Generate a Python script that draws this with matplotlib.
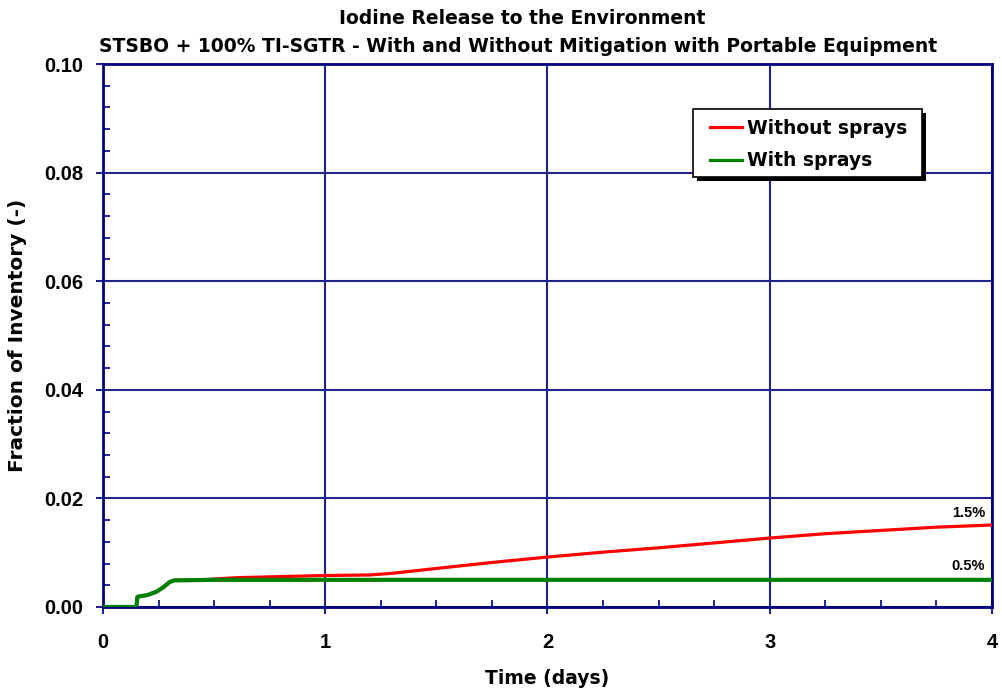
import matplotlib
matplotlib.use("Agg")
import matplotlib.pyplot as plt
from matplotlib.ticker import MultipleLocator, FormatStrFormatter
from matplotlib.patches import Rectangle
import matplotlib.transforms as mtransforms

plt.rcParams['font.family'] = ['Liberation Sans', 'DejaVu Sans']
plt.rcParams['font.weight'] = 'bold'

# Data (time in days, fraction of inventory)
t_without = [0.0, 0.15, 0.155, 0.17, 0.20, 0.24, 0.27, 0.30, 0.32, 0.44, 0.6, 0.8, 1.0, 1.2, 1.3, 1.5, 1.75, 2.0, 2.25, 2.5, 2.75, 3.0, 3.25, 3.5, 3.75, 4.0]
y_without = [0.0, 0.0, 0.0019, 0.0020, 0.0022, 0.0028, 0.0036, 0.0046, 0.0049, 0.0050, 0.0054, 0.0056, 0.0058, 0.0059, 0.0062, 0.0071, 0.0082, 0.0092, 0.0101, 0.0109, 0.0118, 0.0127, 0.0135, 0.0141, 0.0147, 0.0151]
t_with = [0.0, 0.15, 0.155, 0.17, 0.20, 0.24, 0.27, 0.30, 0.32, 0.5, 1.0, 2.0, 3.0, 4.0]
y_with = [0.0, 0.0, 0.0019, 0.0020, 0.0022, 0.0028, 0.0036, 0.0046, 0.0049, 0.0050, 0.0050, 0.0050, 0.0050, 0.0050]

labels = ["Without sprays", "With sprays"]
colors = ["#FF0000", "#008000"]
annot_text = ["1.5%", "0.5%"]
annot_y = [0.0166, 0.0068]

navy = "#000080"
grid_c = "#22228c"
wide = ['DejaVu Sans']

fig = plt.figure(figsize=(10.03, 6.92), dpi=100)
ax = fig.add_axes([103/1003, 1-607/692, (992-103)/1003, (607-64)/692])

ax.plot(t_without, y_without, color=colors[0], lw=2.3, label=labels[0], zorder=3)
ax.plot(t_with, y_with, color=colors[1], lw=3.0, label=labels[1], zorder=4)

ax.set_xlim(0, 4)
ax.set_ylim(0, 0.10)
ax.xaxis.set_major_locator(MultipleLocator(1))
ax.xaxis.set_minor_locator(MultipleLocator(0.25))
ax.yaxis.set_major_locator(MultipleLocator(0.02))
ax.yaxis.set_minor_locator(MultipleLocator(0.004))
ax.yaxis.set_major_formatter(FormatStrFormatter('%.2f'))
ax.xaxis.set_major_formatter(FormatStrFormatter('%d'))

ax.grid(True, which='major', color=grid_c, lw=1.5)
for s in ax.spines.values():
    s.set_color(navy)
    s.set_linewidth(2.0)
ax.tick_params(which='major', direction='out', length=5, color=grid_c, width=1.5, labelsize=14.5)
ax.tick_params(axis='x', which='major', pad=14)
ax.tick_params(axis='y', which='major', pad=9)
ax.tick_params(which='minor', direction='in', length=5, color=navy, width=1.2)
for lab in ax.get_xticklabels() + ax.get_yticklabels():
    lab.set_fontweight('bold')
    lab.set_family(['Liberation Sans'])

ax.set_xlabel("Time (days)", fontsize=13.5, fontweight='bold', family=wide)
ax.set_ylabel("Fraction of Inventory (-)", fontsize=14.5, fontweight='bold', family=wide)
ax.xaxis.label.set_va('center')
ax.yaxis.label.set_va('center')
ax.xaxis.set_label_coords(0.5, (607-678)/543)
ax.yaxis.set_label_coords((18-103)/889, 0.5)

fig.text(0.521, 1-18/692, "Iodine Release to the Environment", ha='center', va='center',
         fontsize=13.5, fontweight='bold', family=wide)
fig.text(0.517, 1-47/692, "STSBO + 100% TI-SGTR - With and Without Mitigation with Portable Equipment",
         ha='center', va='center', fontsize=13.5, fontweight='bold', family=wide)

for txt, yy in zip(annot_text, annot_y):
    ax.text(3.97, yy, txt, ha='right', va='baseline', fontsize=10.5, fontweight='bold')

# legend frame with shadow
x0, x1 = (693-103)/889, (922-103)/889
y1, y0 = 1-(109-64)/543, 1-(177-64)/543
shadow_tr = ax.transAxes + mtransforms.ScaledTranslation(4/100, -4/100, fig.dpi_scale_trans)
ax.add_patch(Rectangle((x0, y0), x1-x0, y1-y0, transform=shadow_tr, facecolor='black',
                       edgecolor='black', lw=0, zorder=5, clip_on=False))
ax.add_patch(Rectangle((x0, y0), x1-x0, y1-y0, transform=ax.transAxes, facecolor='white',
                       edgecolor='black', lw=1.2, zorder=6, clip_on=False))

leg = ax.legend(loc='center left', bbox_to_anchor=((710-103)/889, 1-(144.5-64)/543), frameon=False,
                prop={'family': wide, 'weight': 'bold', 'size': 13.5}, handlelength=1.7,
                borderpad=0, labelspacing=0.72, handletextpad=0.3, borderaxespad=0)
leg.set_zorder(7)
for line in leg.get_lines():
    line.set_linewidth(2.3)

fig.savefig("out.png", dpi=100)
